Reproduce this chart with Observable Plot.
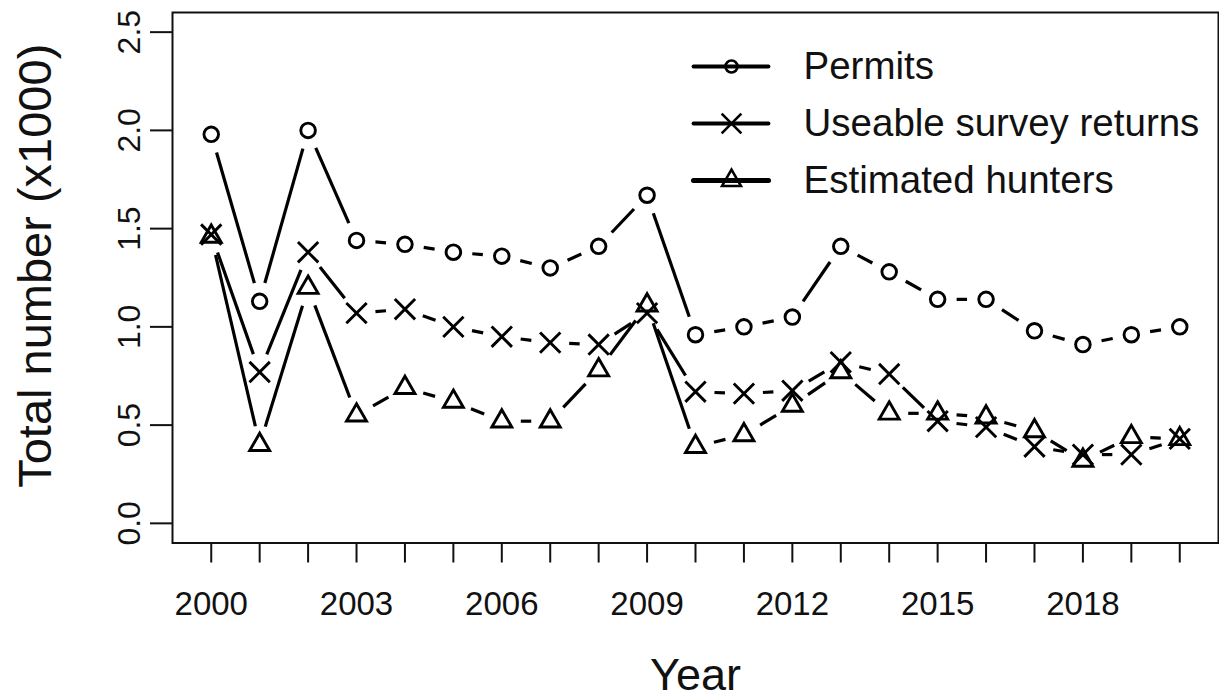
<!DOCTYPE html>
<html>
<head>
<meta charset="utf-8">
<script src="https://cdn.jsdelivr.net/npm/d3@7"></script>
<script src="https://cdn.jsdelivr.net/npm/@observablehq/plot@0.6"></script>
<style>
  body { margin: 0; background: #fff; }
  #chart svg { display: block; }
</style>
</head>
<body>
<div id="chart"></div>
<script>
// Yearly totals, in thousands
const years = d3.range(2000, 2021);
const permits = [1.98, 1.13, 2.00, 1.44, 1.42, 1.38, 1.36, 1.30, 1.41, 1.67, 0.96, 1.00, 1.05, 1.41, 1.28, 1.14, 1.14, 0.98, 0.91, 0.96, 1.00];
const surveyReturns = [1.47, 0.77, 1.38, 1.07, 1.09, 1.00, 0.95, 0.92, 0.91, 1.07, 0.67, 0.66, 0.675, 0.82, 0.76, 0.52, 0.49, 0.39, 0.35, 0.35, 0.43];
const hunters = [1.46, 0.40, 1.20, 0.55, 0.69, 0.62, 0.52, 0.52, 0.78, 1.11, 0.39, 0.45, 0.60, 0.77, 0.56, 0.56, 0.54, 0.47, 0.32, 0.44, 0.43];

const seriesNames = ["Permits", "Useable survey returns", "Estimated hunters"];
const seriesSymbols = ["circle", "times", "triangle"];

const xTicks = years;
const xLabelTicks = [2000, 2003, 2006, 2009, 2012, 2015, 2018];
const yTicks = [0, 0.5, 1.0, 1.5, 2.0, 2.5];

const xTitle = "Year";
const yTitle = "Total number (x1000)";

// Layout
const W = 1219, H = 698;
const margin = {left: 172, right: 1, top: 12, bottom: 155.5};
const xDomain = [1999.2, 2020.8];
const yDomain = [-0.1, 2.6];
const xRange = [margin.left, W - margin.right];
const yRange = [H - margin.bottom, margin.top];
const FONT = "'Liberation Sans', Arial, sans-serif";

const xs = Plot.scale({x: {domain: xDomain, range: xRange}});
const ys = Plot.scale({y: {domain: yDomain, range: yRange}});

const symbolR = {circle: 7.3, times: 9.3, triangle: 7.4};

const series = [
  {name: seriesNames[0], symbol: seriesSymbols[0], values: permits},
  {name: seriesNames[1], symbol: seriesSymbols[1], values: surveyReturns},
  {name: seriesNames[2], symbol: seriesSymbols[2], values: hunters}
];

const points = series.flatMap(s => s.values.map((v, i) => ({series: s.name, symbol: s.symbol, year: years[i], value: v})));

// "Both" style connectors: each segment stops short of the points by a fixed pixel gap
const GAP = 19;
const segments = [];
for (const s of series) {
  for (let i = 0; i < years.length - 1; i++) {
    const px1 = xs.apply(years[i]), py1 = ys.apply(s.values[i]);
    const px2 = xs.apply(years[i + 1]), py2 = ys.apply(s.values[i + 1]);
    const d = Math.hypot(px2 - px1, py2 - py1);
    if (d <= 2 * GAP) continue;
    const t = GAP / d;
    segments.push({
      series: s.name,
      x1: xs.invert(px1 + (px2 - px1) * t), y1: ys.invert(py1 + (py2 - py1) * t),
      x2: xs.invert(px2 - (px2 - px1) * t), y2: ys.invert(py2 - (py2 - py1) * t)
    });
  }
}

// Legend placed in the upper right of the panel
const legendRows = series.map((s, i) => ({
  name: s.name, symbol: s.symbol,
  y: ys.invert(66 + 57 * i),
  lw: i === 2 ? 5 : 3.8
}));
const legX1 = xs.invert(693), legX2 = xs.invert(768), legXm = xs.invert(731), legXt = xs.invert(803);
const legendR = {circle: 6, times: 9, triangle: 7};

const marks = [
  Plot.frame({stroke: "#111", strokeWidth: 2}),
  Plot.axisY(yTicks, {tickSize: 22, tickFormat: () => "", stroke: "#111", strokeWidth: 2}),
  Plot.text(yTicks, {y: d => d, frameAnchor: "left", dx: -43, text: d => d.toFixed(1), rotate: -90,
    textAnchor: "middle", lineAnchor: "middle", fontSize: 32, fill: "#111"}),
  Plot.axisX(xTicks, {tickSize: 20, tickFormat: () => "", stroke: "#111", strokeWidth: 2}),
  Plot.text(xLabelTicks, {x: d => d, frameAnchor: "bottom", dy: 61, text: d => String(d),
    textAnchor: "middle", lineAnchor: "middle", fontSize: 33, fill: "#111"}),
  Plot.text([xTitle], {frameAnchor: "bottom", dy: 133, text: d => d, textAnchor: "middle", lineAnchor: "middle", fontSize: 45, fill: "#111"}),
  Plot.text([yTitle], {frameAnchor: "left", dx: -137, dy: -12, text: d => d, rotate: -90, textAnchor: "middle", lineAnchor: "middle", fontSize: 47, fill: "#111"}),
  Plot.link(segments, {x1: "x1", y1: "y1", x2: "x2", y2: "y2", stroke: "#000", strokeWidth: 3.2, strokeLinecap: "butt"}),
  ...series.map(s => Plot.dot(points.filter(p => p.series === s.name), {
    x: "year", y: "value", symbol: () => s.symbol, r: symbolR[s.symbol],
    stroke: "#000", strokeWidth: 2.9, fill: "none"
  })),
  // legend
  Plot.link(legendRows, {x1: () => legX1, x2: () => legX2, y1: "y", y2: "y", stroke: "#000", strokeWidth: "lw", strokeLinecap: "round"}),
  ...legendRows.map(r => Plot.dot([r], {x: () => legXm, y: "y", symbol: () => r.symbol,
    r: legendR[r.symbol], stroke: "#000", strokeWidth: 2.6, fill: "none"})),
  Plot.text(legendRows, {x: () => legXt, y: "y", text: "name", textAnchor: "start", lineAnchor: "middle", fontSize: 38.5, fill: "#111"})
];

const chart = Plot.plot({
  width: W, height: H,
  marginLeft: margin.left, marginRight: margin.right, marginTop: margin.top, marginBottom: margin.bottom,
  style: {fontFamily: FONT, background: "#fff", overflow: "visible"},
  x: {domain: xDomain, range: xRange, axis: null},
  y: {domain: yDomain, range: yRange, axis: null},
  symbol: {type: "identity"},
  marks
});
document.getElementById("chart").appendChild(chart);
</script>
</body>
</html>
